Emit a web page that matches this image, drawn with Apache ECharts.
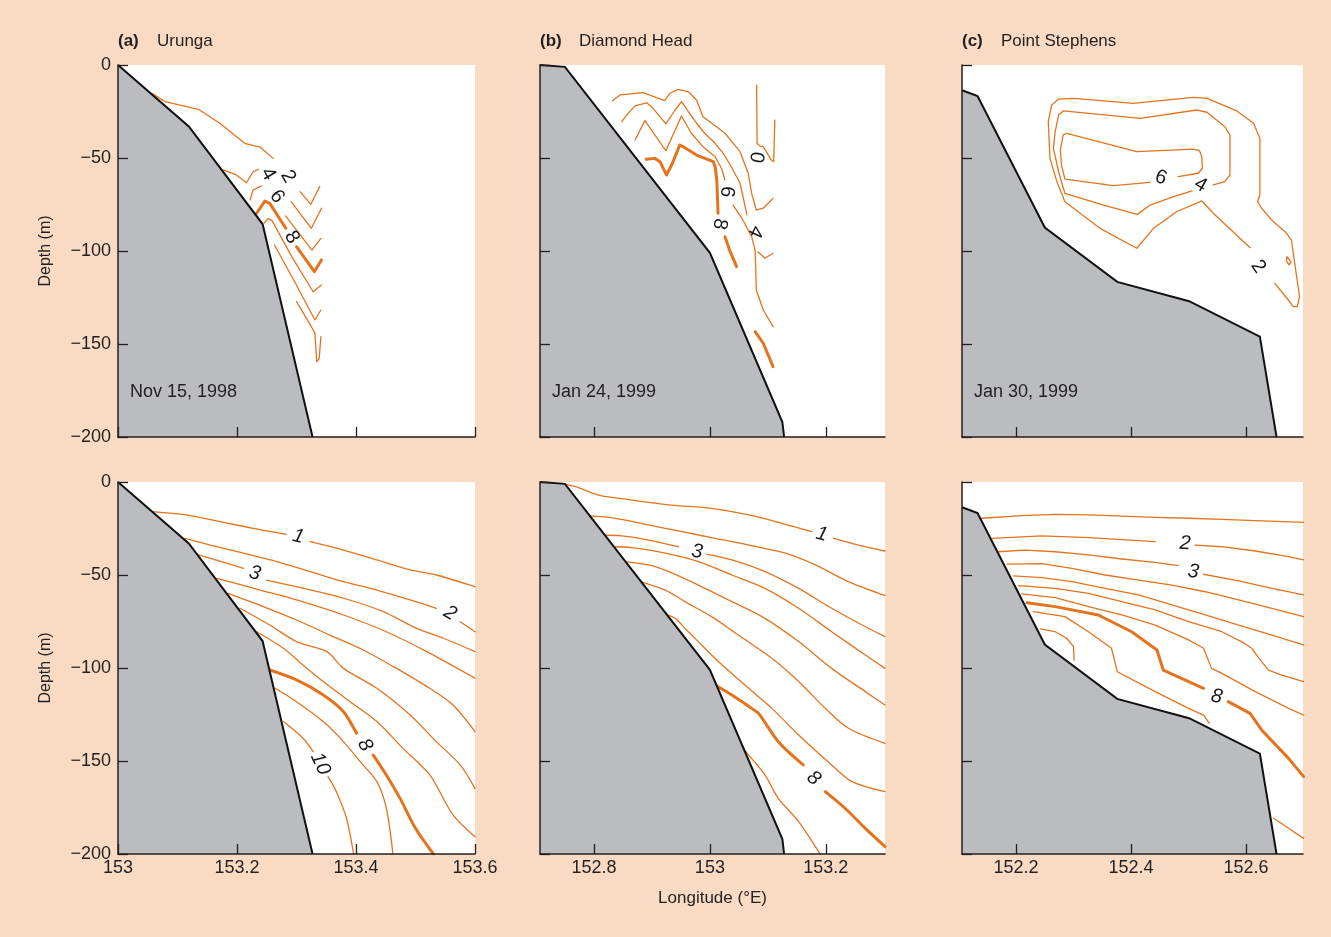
<!DOCTYPE html>
<html><head><meta charset="utf-8">
<script src="https://cdn.jsdelivr.net/npm/echarts@6/dist/echarts.min.js"></script>
<style>html,body{margin:0;padding:0;background:#F9DBC3;} #chart{width:1331px;height:937px;}</style>
</head><body><div id="chart"></div>
<script>
// ---------- axis ticks ----------
const xTicksA = [153, 153.2, 153.4, 153.6];
const xTicksB = [152.8, 153, 153.2];
const xTicksC = [152.2, 152.4, 152.6];
const xRangeA = [153, 153.6];
const xRangeB = [152.707, 153.302];
const xRangeC = [152.106, 152.699];
const depthRange = [-200, 0];
const titles = [['(a)', 'Urunga'], ['(b)', 'Diamond Head'], ['(c)', 'Point Stephens']];
const dates = ['Nov 15, 1998', 'Jan 24, 1999', 'Jan 30, 1999'];

// ---------- bathymetry (lon, depth) ----------
const bathyA = [[153, 0], [153.119, -33], [153.243, -85.5], [153.327, -200]];
const bathyB = [[152.707, 0], [152.75, -1], [153.0, -101], [153.125, -192], [153.128, -200]];
const bathyC = [[152.106, -13.6], [152.133, -16.7], [152.25, -87.4], [152.376, -116.6], [152.501, -127], [152.624, -146], [152.653, -200]];

// ---------- top row contours (each = list of segments) ----------
const topA_2 = [[[153.057,-15.2],[153.079,-19.7],[153.135,-23.8],[153.171,-31.3],[153.213,-42.1],[153.239,-44.2],[153.261,-50.2]],
                [[153.306,-68.1],[153.324,-74.9],[153.339,-65.4]]];
const topA_4 = [[[153.177,-56.4],[153.199,-59.1],[153.216,-63.3],[153.227,-57.4],[153.236,-56.1]],
                [[153.291,-73.5],[153.325,-87.8],[153.342,-77.0]]];
const topA_6 = [[[153.222,-72.6],[153.227,-67.2],[153.241,-65.0]],
                [[153.282,-81.2],[153.326,-99.5],[153.341,-93.2]]];
const topA_8 = [[[153.233,-79.7],[153.247,-73.1],[153.255,-74.4],[153.282,-87.8]],
                [[153.300,-97.7],[153.330,-111.1],[153.342,-104.8]]];
const topA_10 = [[[153.246,-84.8],[153.252,-82.6],[153.259,-83.7],[153.292,-103],[153.328,-121.9],[153.342,-118.3]]];
const topA_12 = [[[153.263,-96.8],[153.296,-116],[153.331,-137.1],[153.341,-131.7]]];
const topA_14 = [[[153.300,-127.2],[153.325,-140.7],[153.331,-144.2],[153.334,-159.5],[153.338,-158],[153.341,-146.1]]];
const topA_labels = [['2',153.286,-60.0],['4',153.252,-58.6],['6',153.267,-70.8],['8',153.292,-92.6]];

const topB_0 = [[[153.0805,-10.8],[153.0815,-42.1],[153.086,-43.5],[153.092,-43.9],[153.106,-51.1],[153.110,-52.0],[153.112,-29.6]]];
const topB_2 = [[[152.832,-19.2],[152.845,-16.1],[152.885,-14.9],[152.922,-19.2],[152.931,-15.2],[152.945,-13.1],[152.963,-14.4],[152.977,-18.8],[152.988,-27.8],[153.000,-30.5],[153.026,-36.7],[153.052,-46.6],[153.066,-58.2],[153.072,-69.0],[153.080,-78.0],[153.092,-77.0],[153.109,-71.7]]];
const topB_4 = [[[152.848,-30.5],[152.859,-26.0],[152.871,-22.0],[152.891,-20.3],[152.902,-23.3],[152.924,-31.7],[152.940,-24.2],[152.951,-19.7],[152.961,-24.2],[152.977,-31.3],[152.991,-36.7],[153.009,-42.1],[153.023,-47.5],[153.037,-54.7],[153.052,-63.6],[153.064,-80.6]],
                [[153.083,-100.4],[153.095,-103.9],[153.109,-101.2]]];
const topB_6 = [[[152.871,-40.3],[152.888,-29.9],[152.924,-46.1],[152.951,-27.4],[152.968,-36.7],[152.988,-43.9],[153.009,-49.3],[153.020,-55.5],[153.026,-61.8]],
                [[153.040,-75.3],[153.057,-83.3],[153.072,-92.3],[153.078,-99.5],[153.079,-108.4],[153.080,-121.0],[153.092,-131.7],[153.109,-140.7]]];
const topB_8 = [[[152.890,-50.7],[152.905,-50.2],[152.914,-52.0],[152.925,-59.1],[152.934,-53.8],[152.948,-43.0],[152.954,-43.9],[152.977,-48.4],[153.006,-52.0],[153.009,-54.7],[153.012,-61.8],[153.014,-79.7]],
                [[153.026,-92.3],[153.034,-99.5],[153.046,-108.4]],
                [[153.078,-143.4],[153.092,-149.6],[153.109,-162.2]]];
const topB_labels = [['0',153.080,-49.6],['6',153.029,-68.1],['8',153.017,-85.5],['4',153.078,-89.6]];

const topC_2 = [[[152.650,-117.4],[152.671,-125.4],[152.682,-129.9],[152.689,-129.9],[152.693,-124.6],[152.685,-107.5],[152.679,-94.1],[152.668,-89.6],[152.647,-84.2],[152.627,-77.0],[152.620,-73.5],[152.624,-69.9],[152.624,-39.4],[152.613,-31.3],[152.584,-24.7],[152.532,-17.9],[152.508,-17.4],[152.404,-20.6],[152.300,-17.9],[152.274,-18.3],[152.262,-21.5],[152.256,-30.5],[152.259,-50.2],[152.271,-62.7],[152.285,-73.5],[152.346,-87.8],[152.410,-98.5],[152.439,-87.8],[152.479,-78.9],[152.523,-73.1],[152.543,-79.7],[152.607,-98.2]],
                [[152.671,-103.1],[152.678,-105.7],[152.675,-107.5],[152.670,-105.4],[152.671,-103.1]]];
const topC_4 = [[[152.543,-64.5],[152.563,-62.7],[152.572,-59.1],[152.572,-37.6],[152.563,-33.2],[152.532,-25.4],[152.514,-24.2],[152.416,-28.7],[152.282,-24.7],[152.274,-26.9],[152.268,-35.9],[152.265,-44.8],[152.274,-57.4],[152.285,-69.0],[152.352,-75.3],[152.411,-80.3],[152.433,-75.3],[152.474,-70.8],[152.506,-67.7]]];
const topC_6 = [[[152.482,-60.0],[152.517,-58.2],[152.524,-55.5],[152.523,-49.3],[152.519,-46.1],[152.508,-45.2],[152.410,-46.6],[152.288,-36.7],[152.282,-37.6],[152.277,-45.7],[152.279,-53.8],[152.285,-61.4],[152.369,-64.9],[152.433,-63.1]]];
const topC_labels = [['6',152.452,-60.6],['4',152.521,-64.5],['2',152.621,-108.4]];

// ---------- bottom row contours ----------
const botA_1 = [[[153.058,-15.9],[153.115,-17.7],[153.171,-21.3],[153.227,-24.9],[153.283,-28.1]],
                [[153.323,-32.1],[153.379,-36.6],[153.435,-41.9],[153.491,-47.3],[153.535,-50.0],[153.600,-56.3]]];
const botA_2 = [[[153.113,-30.3],[153.155,-33.9],[153.211,-38.3],[153.267,-42.8],[153.323,-48.2],[153.379,-53.6],[153.435,-58.1],[153.491,-63.4],[153.535,-67.9]],
                [[153.575,-75.1],[153.600,-80.5]]];
const botA_3 = [[[153.135,-39.2],[153.171,-42.5],[153.211,-46.4]],
                [[153.250,-52.7],[153.300,-56.3],[153.379,-62.5],[153.446,-69.7],[153.502,-78.7],[153.547,-84.0],[153.600,-91.2]]];
const botA_4 = [[[153.166,-51.8],[153.239,-58.1],[153.300,-63.4],[153.379,-71.5],[153.451,-80.5],[153.519,-91.2],[153.600,-105.5]]];
const botA_5 = [[[153.185,-59.9],[153.244,-67.0],[153.300,-74.2],[153.356,-82.3],[153.412,-90.3],[153.468,-100.2],[153.524,-110.9],[153.563,-119.9],[153.600,-134.2]]];
const botA_6 = [[[153.205,-67.9],[153.255,-76.9],[153.300,-85.8],[153.351,-91.2],[153.379,-100.2],[153.435,-110.9],[153.491,-125.3],[153.535,-139.6],[153.575,-152.1],[153.600,-164.7]]];
const botA_7 = [[[153.233,-80.5],[153.278,-89.4],[153.311,-98.4],[153.345,-107.3],[153.390,-118.1],[153.435,-128.8],[153.479,-143.2],[153.524,-157.5],[153.563,-179.0],[153.600,-190.7]]];
const botA_8 = [[[153.255,-101.1],[153.300,-106.4],[153.345,-114.5],[153.379,-123.5],[153.401,-135.1]],
                [[153.429,-146.8],[153.451,-157.5],[153.474,-170.1],[153.500,-186.2],[153.530,-200]]];
const botA_9 = [[[153.264,-110.9],[153.300,-118.1],[153.345,-128.8],[153.379,-139.6],[153.407,-150.3],[153.435,-161.1],[153.451,-175.4],[153.462,-200]]];
const botA_10 = [[[153.278,-128.8],[153.311,-137.8],[153.328,-145.0]],
                 [[153.353,-158.4],[153.367,-166.5],[153.384,-180.8],[153.396,-200]]];
const botA_labels = [['1',153.303,-29.4],['3',153.230,-49.1],['2',153.558,-70.6],['8',153.415,-141.4],['10',153.340,-151.5]];

const botB_1 = [[[152.745,-0.7],[152.768,-2.5],[152.808,-7.0],[152.866,-9.7],[152.934,-12.4],[153.003,-14.2],[153.067,-17.7],[153.124,-22.2],[153.176,-26.7]],
                [[153.213,-30.3],[153.256,-33.9],[153.302,-37.1]]];
const botB_2 = [[[152.788,-18.1],[152.837,-19.5],[152.894,-23.1],[152.952,-26.7],[153.009,-30.3],[153.067,-33.9],[153.130,-38.3],[153.182,-44.6],[153.239,-53.6],[153.302,-61.1]]];
const botB_3 = [[[152.811,-28.5],[152.848,-29.0],[152.894,-31.2],[152.946,-34.8]],
                [[152.995,-38.9],[153.038,-41.9],[153.095,-48.2],[153.153,-57.2],[153.210,-67.9],[153.268,-77.8],[153.302,-83.1]]];
const botB_4 = [[[152.828,-34.8],[152.866,-35.3],[152.923,-38.3],[152.980,-42.8],[153.038,-50.0],[153.095,-57.2],[153.153,-67.9],[153.210,-80.5],[153.268,-93.0],[153.302,-100.2]]];
const botB_5 = [[[152.845,-42.5],[152.894,-44.6],[152.929,-48.2],[152.980,-55.4],[153.038,-64.3],[153.095,-73.3],[153.153,-85.8],[153.210,-100.2],[153.268,-112.7],[153.302,-119.9]]];
const botB_6 = [[[152.871,-52.7],[152.923,-58.1],[152.957,-64.3],[153.003,-72.4],[153.049,-82.3],[153.107,-94.8],[153.153,-107.3],[153.199,-121.7],[153.239,-132.4],[153.302,-140.5]]];
const botB_7 = [[[152.920,-70.6],[152.940,-73.3],[152.957,-78.7],[152.980,-85.8],[153.015,-96.6],[153.067,-110.9],[153.107,-121.7],[153.153,-136.0],[153.210,-152.1],[153.245,-161.1],[153.302,-166.5]]];
const botB_8 = [[[153.009,-109.1],[153.038,-114.5],[153.072,-121.7],[153.084,-124.4],[153.118,-139.6],[153.161,-152.1]],
                [[153.199,-166.5],[153.233,-175.4],[153.268,-186.2],[153.302,-196.0]]];
const botB_9 = [[[153.044,-137.8],[153.067,-146.8],[153.095,-157.5],[153.118,-170.1],[153.153,-182.6],[153.190,-200]]];
const botB_labels = [['1',153.193,-28.1],['3',152.978,-37.5],['8',153.179,-159.3]];

const botC_1 = [[[152.140,-19.5],[152.210,-18.1],[152.268,-17.4],[152.326,-17.7],[152.384,-18.3],[152.442,-19.0],[152.500,-19.5],[152.558,-20.1],[152.616,-20.8],[152.700,-21.7]]];
const botC_2 = [[[152.158,-30.3],[152.245,-29.0],[152.326,-29.9],[152.384,-31.0],[152.442,-32.1]],
                [[152.511,-33.9],[152.558,-34.8],[152.616,-37.1],[152.674,-40.1],[152.700,-41.9]]];
const botC_3 = [[[152.169,-37.5],[152.216,-36.6],[152.268,-37.5],[152.326,-39.2],[152.384,-41.4],[152.442,-43.2],[152.482,-45.0]],
                [[152.526,-49.6],[152.587,-53.2],[152.645,-57.2],[152.700,-60.7]]];
const botC_4 = [[[152.184,-44.1],[152.245,-43.9],[152.297,-46.4],[152.355,-50.0],[152.413,-52.7],[152.471,-55.4],[152.529,-59.0],[152.587,-63.4],[152.645,-67.9],[152.700,-72.4]]];
const botC_5 = [[[152.195,-50.5],[152.245,-51.4],[152.297,-53.6],[152.355,-57.2],[152.413,-60.7],[152.471,-66.1],[152.529,-71.5],[152.587,-76.9],[152.645,-82.3],[152.700,-87.6]]];
const botC_6 = [[[152.204,-55.7],[152.268,-57.2],[152.326,-59.9],[152.384,-64.3],[152.442,-68.8],[152.500,-75.1],[152.529,-77.8],[152.558,-80.5],[152.592,-85.8],[152.610,-89.4],[152.627,-96.6],[152.639,-101.1],[152.662,-103.8],[152.700,-107.3]]];
const botC_7 = [[[152.210,-60.2],[152.268,-62.2],[152.326,-67.0],[152.384,-71.5],[152.442,-76.9],[152.500,-84.9],[152.526,-89.4],[152.540,-100.2],[152.558,-102.9],[152.616,-112.7],[152.674,-121.7],[152.700,-125.3]]];
const botC_8 = [[[152.219,-64.9],[152.268,-67.0],[152.343,-71.5],[152.401,-80.5],[152.445,-90.3],[152.456,-101.1],[152.526,-110.9]],
                [[152.569,-118.1],[152.607,-124.4],[152.627,-133.3],[152.674,-148.6],[152.700,-158.4]]];
const botC_9 = [[[152.230,-69.7],[152.285,-72.4],[152.326,-80.5],[152.366,-89.4],[152.376,-102.0],[152.442,-112.7],[152.500,-121.7],[152.526,-125.3],[152.536,-129.7]]];
const botC_10 = [[[152.242,-79.0],[152.268,-80.5],[152.288,-84.0],[152.300,-88.5],[152.301,-95.7]]];
const botC_11 = [[[152.648,-180.8],[152.674,-186.2],[152.700,-191.6]]];
const botC_labels = [['2',152.494,-33.0],['3',152.508,-48.2],['8',152.549,-115.4]];

// ---------- styling / layout ----------
const FONT = '"Liberation Sans", Arial, Helvetica, sans-serif';
const ORANGE = '#E4731E';
const LAND = '#BBBCC0';
const INK = '#231F20';
const gridBoxes = [
  {left: 118, top: 65, width: 357, height: 372},
  {left: 540, top: 65, width: 345, height: 372},
  {left: 962, top: 65, width: 341, height: 372},
  {left: 118, top: 482, width: 357, height: 372},
  {left: 540, top: 482, width: 345, height: 372},
  {left: 962, top: 482, width: 341, height: 372}
];
const xRanges = [xRangeA, xRangeB, xRangeC, xRangeA, xRangeB, xRangeC];
const xTicks = [xTicksA, xTicksB, xTicksC, xTicksA, xTicksB, xTicksC];
const bathys = [bathyA, bathyB, bathyC, bathyA, bathyB, bathyC];

const panelContours = [
  [[topA_2,0],[topA_4,0],[topA_6,0],[topA_8,1],[topA_10,0],[topA_12,0],[topA_14,0]],
  [[topB_0,0],[topB_2,0],[topB_4,0],[topB_6,0],[topB_8,1]],
  [[topC_2,0],[topC_4,0],[topC_6,0]],
  [[botA_1,0],[botA_2,0],[botA_3,0],[botA_4,0],[botA_5,0],[botA_6,0],[botA_7,0],[botA_8,1],[botA_9,0],[botA_10,0]],
  [[botB_1,0],[botB_2,0],[botB_3,0],[botB_4,0],[botB_5,0],[botB_6,0],[botB_7,0],[botB_8,1],[botB_9,0]],
  [[botC_1,0],[botC_2,0],[botC_3,0],[botC_4,0],[botC_5,0],[botC_6,0],[botC_7,0],[botC_8,1],[botC_9,0],[botC_10,0],[botC_11,0]]
];
const panelLabels = [topA_labels, topB_labels, topC_labels, botA_labels, botB_labels, botC_labels];
const labelRot = [[-60,-60,-55,-60],[-100,-95,-100,-115],[-20,-30,-55],[-15,-15,-30,-60,-65],[-15,-8,-40],[-3,-8,-10]];
const smoothBy = [0, 0, 0, 0.3, 0.3, 0];

const grid = gridBoxes.map(b => Object.assign({show: true, backgroundColor: '#ffffff', borderWidth: 0}, b));

const xAxis = gridBoxes.map((b, i) => ({
  gridIndex: i, type: 'value', min: xRanges[i][0], max: xRanges[i][1], z: 10,
  axisLine: {show: true, onZero: false, lineStyle: {color: INK, width: 1.5}},
  axisTick: {show: true, inside: true, length: 10, customValues: xTicks[i], lineStyle: {color: INK, width: 1.3}},
  axisLabel: {show: i >= 3, customValues: xTicks[i], color: INK, fontSize: 18, fontFamily: FONT, margin: 5},
  splitLine: {show: false},
  name: i === 4 ? 'Longitude (°E)' : '', nameLocation: 'middle', nameGap: 36,
  nameTextStyle: {color: INK, fontSize: 17, fontFamily: FONT}
}));

const yAxis = gridBoxes.map((b, i) => ({
  gridIndex: i, type: 'value', min: depthRange[0], max: depthRange[1], interval: 50, z: 10,
  axisLine: {show: true, onZero: false, lineStyle: {color: INK, width: 1.5}},
  axisTick: {show: true, inside: true, length: 10, lineStyle: {color: INK, width: 1.3}},
  axisLabel: {show: i % 3 === 0, color: INK, fontSize: 18, fontFamily: FONT, margin: 7,
              formatter: v => v < 0 ? '\u2212' + Math.abs(v) : String(v)},
  splitLine: {show: false},
  name: i % 3 === 0 ? 'Depth (m)' : '', nameLocation: 'middle', nameGap: 64, nameRotate: 90,
  nameTextStyle: {color: INK, fontSize: 16, fontFamily: FONT}
}));

const series = [];
for (let i = 0; i < 6; i++) {
  panelContours[i].forEach(([segs, thick]) => {
    segs.forEach(seg => series.push({
      type: 'line', xAxisIndex: i, yAxisIndex: i, data: seg, symbol: 'none', silent: true, z: 3,
      smooth: smoothBy[i], animation: false,
      lineStyle: {color: ORANGE, width: thick ? 3 : 1.3, cap: 'round', join: 'round'}
    }));
  });
  series.push({
    type: 'line', xAxisIndex: i, yAxisIndex: i, data: bathys[i], symbol: 'none', silent: true, z: 5,
    animation: false,
    lineStyle: {color: '#111111', width: 2, join: 'miter'},
    areaStyle: {color: LAND, opacity: 1, origin: 'start'}
  });
  series.push({
    type: 'scatter', xAxisIndex: i, yAxisIndex: i, symbol: 'circle', symbolSize: 1, silent: true, z: 6, animation: false,
    itemStyle: {color: '#ffffff', opacity: 1},
    label: {show: true, position: 'inside', color: '#1a1a1a', opacity: 1, fontSize: 20, fontFamily: FONT,
            textBorderWidth: 0, fontStyle: i >= 3 ? 'italic' : 'normal'},
    data: panelLabels[i].map((l, k) => ({value: [l[1], l[2]], label: {formatter: l[0], rotate: labelRot[i][k]}}))
  });
}

const graphic = [];
titles.forEach((t, i) => {
  graphic.push({type: 'text', z: 100, left: gridBoxes[i].left, top: 33,
    style: {text: t[0], font: 'bold 17px ' + FONT, fill: INK}});
  graphic.push({type: 'text', z: 100, left: gridBoxes[i].left + 39, top: 33,
    style: {text: t[1], font: '17px ' + FONT, fill: INK}});
  graphic.push({type: 'text', z: 100, left: gridBoxes[i].left + 12, top: 383,
    style: {text: dates[i], font: '18px ' + FONT, fill: INK}});
});

const chart = echarts.init(document.getElementById('chart'), null, {renderer: 'canvas'});
chart.setOption({
  backgroundColor: '#F9DBC3',
  animation: false,
  grid, xAxis, yAxis, series, graphic
});
</script></body></html>
